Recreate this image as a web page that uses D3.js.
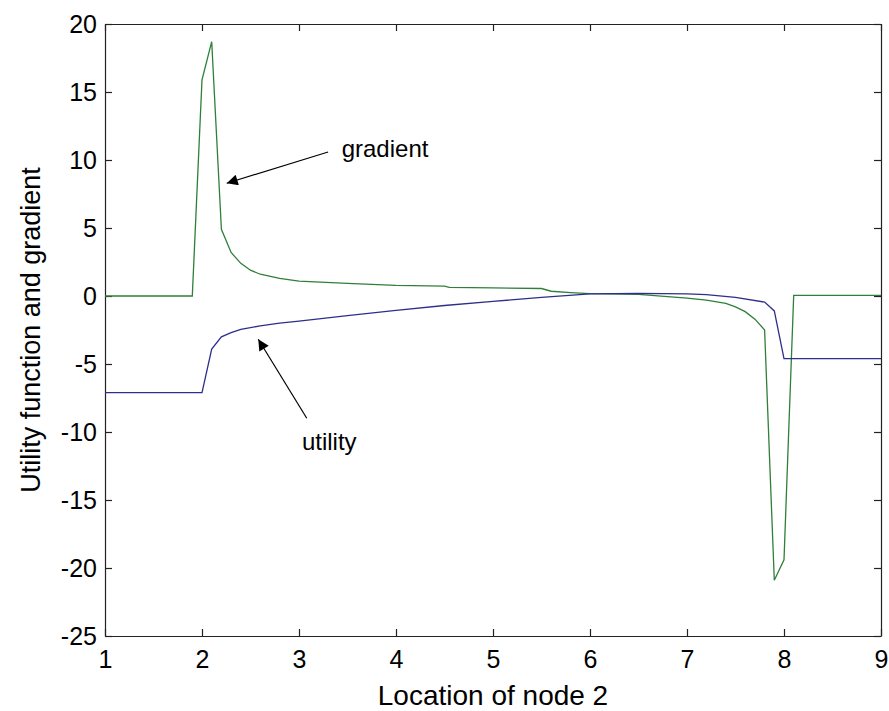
<!DOCTYPE html>
<html>
<head>
<meta charset="utf-8">
<script src="https://cdn.jsdelivr.net/npm/d3@7"></script>
<style>
  body { margin: 0; background: #fff; }
  svg { display: block; }
  text { font-family: "Liberation Sans", Arial, sans-serif; fill: #000; }
</style>
</head>
<body>
<div class="chart"></div>
<script>
// values
var gradient_x = [1, 1.9, 2.0, 2.1, 2.2, 2.3, 2.4, 2.5, 2.6, 2.8, 3.0, 3.5, 4.0, 4.5, 4.55, 5.0, 5.5, 5.6, 5.8, 6.0, 6.5, 7.0, 7.2, 7.4, 7.5, 7.6, 7.7, 7.8, 7.9, 8.0, 8.1, 9];
var gradient_y = [0, 0, 15.9, 18.7, 4.9, 3.2, 2.4, 1.9, 1.6, 1.3, 1.1, 0.93, 0.78, 0.72, 0.64, 0.6, 0.55, 0.35, 0.25, 0.18, 0.12, -0.15, -0.3, -0.55, -0.8, -1.15, -1.7, -2.5, -20.9, -19.4, 0.05, 0.05];

var utility_x = [1, 2.0, 2.1, 2.2, 2.3, 2.4, 2.6, 2.8, 3.0, 3.5, 4.0, 4.5, 5.0, 5.5, 6.0, 6.5, 7.0, 7.2, 7.5, 7.8, 7.9, 8.0, 9];
var utility_y = [-7.1, -7.1, -3.9, -3.0, -2.7, -2.45, -2.2, -2.0, -1.85, -1.45, -1.05, -0.7, -0.4, -0.1, 0.15, 0.2, 0.15, 0.1, -0.1, -0.45, -1.1, -4.6, -4.6];

var x_ticks = [1, 2, 3, 4, 5, 6, 7, 8, 9];
var y_ticks = [-25, -20, -15, -10, -5, 0, 5, 10, 15, 20];

var x_label = "Location of node 2",
    y_label = "Utility function and gradient";

// annotations in data units: text anchor, arrow tail, arrow tip
var notes = [
  { text: "gradient", tx: 3.44, ty: 10.22, x1: 3.30, y1: 10.59, x2: 2.255, y2: 8.29 },
  { text: "utility",  tx: 3.03, ty: -11.32, x1: 3.08, y1: -8.99, x2: 2.58, y2: -3.18 }
];

var width = 889,
    height = 711,
    left = 105,
    right = 881,
    top_y = 24,
    bottom_y = 636,
    green = "#2f7f3a",
    blue = "#2e2e8c";

var svg = d3.select(".chart")
    .append("svg")
    .attr("width", width)
    .attr("height", height);

var x = d3.scaleLinear().domain([1, 9]).range([left, right]);
var y = d3.scaleLinear().domain([-25, 20]).range([bottom_y, top_y]);

var plain = function(d) { return String(d); };

var defs = svg.append("defs");
defs.append("marker")
    .attr("id", "head")
    .attr("viewBox", "0 0 10 10")
    .attr("refX", 10)
    .attr("refY", 5)
    .attr("markerWidth", 16)
    .attr("markerHeight", 11)
    .attr("markerUnits", "userSpaceOnUse")
    .attr("orient", "auto")
  .append("path")
    .attr("d", "M0,0 L10,5 L0,10 Z")
    .attr("fill", "#000");

// axes, ticks pointing inward like the original box
svg.append("g")
    .attr("transform", "translate(0," + bottom_y + ")")
    .call(d3.axisBottom(x).tickValues(x_ticks).tickFormat(plain).tickSizeInner(-7).tickSizeOuter(0).tickPadding(14));
svg.append("g")
    .attr("transform", "translate(0," + top_y + ")")
    .call(d3.axisTop(x).tickValues(x_ticks).tickSizeInner(-7).tickSizeOuter(0).tickFormat(""));
svg.append("g")
    .attr("transform", "translate(" + left + ",0)")
    .call(d3.axisLeft(y).tickValues(y_ticks).tickFormat(plain).tickSizeInner(-7).tickSizeOuter(0).tickPadding(8));
svg.append("g")
    .attr("transform", "translate(" + right + ",0)")
    .call(d3.axisRight(y).tickValues(y_ticks).tickSizeInner(-7).tickSizeOuter(0).tickFormat(""));

svg.selectAll(".domain, .tick line")
    .attr("stroke", "#222")
    .attr("stroke-width", 1.2);
svg.selectAll(".tick text")
    .style("font-size", "25px")
    .attr("fill", "#000");

// series
var line = d3.line()
    .x(function(d) { return x(d[0]); })
    .y(function(d) { return y(d[1]); });

svg.append("path")
    .datum(d3.zip(gradient_x, gradient_y))
    .attr("d", line)
    .attr("fill", "none")
    .attr("stroke", green)
    .attr("stroke-width", 1.3);

svg.append("path")
    .datum(d3.zip(utility_x, utility_y))
    .attr("d", line)
    .attr("fill", "none")
    .attr("stroke", blue)
    .attr("stroke-width", 1.3);

// annotations
notes.forEach(function(n) {
  svg.append("line")
      .attr("x1", x(n.x1))
      .attr("y1", y(n.y1))
      .attr("x2", x(n.x2))
      .attr("y2", y(n.y2))
      .attr("stroke", "#000")
      .attr("stroke-width", 1.2)
      .attr("marker-end", "url(#head)");
  svg.append("text")
      .attr("x", x(n.tx))
      .attr("y", y(n.ty))
      .style("font-size", "24px")
      .text(n.text);
});

// axis titles
svg.append("text")
    .attr("x", (left + right) / 2)
    .attr("y", 705)
    .attr("text-anchor", "middle")
    .style("font-size", "28px")
    .text(x_label);

svg.append("text")
    .attr("transform", "translate(40," + (top_y + bottom_y) / 2 + ") rotate(-90)")
    .attr("text-anchor", "middle")
    .style("font-size", "27px")
    .text(y_label);
</script>
</body>
</html>
